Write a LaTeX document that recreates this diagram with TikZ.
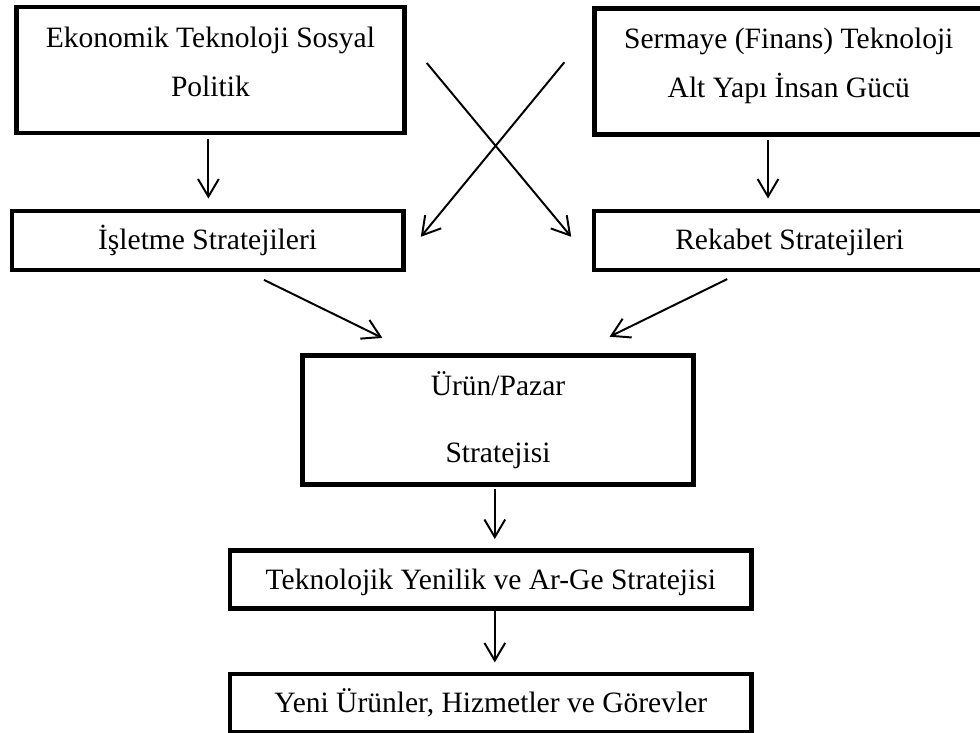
\documentclass[tikz,border=0pt]{standalone}
\usepackage{fontspec}
\setmainfont{Liberation Serif}
\usetikzlibrary{arrows.meta,positioning,calc}

\begin{document}
\begin{tikzpicture}[
  box/.style={draw,line width=3.4pt,align=center,inner sep=4pt,font=\fontsize{21}{34.8}\selectfont},
  bigbox/.style={box,minimum width=9.7cm,minimum height=3.15cm,text height=50pt,text depth=12.2pt},
  midbox/.style={box,minimum width=9.78cm,minimum height=1.475cm,text height=18.5pt,text depth=5pt},
  lowbox/.style={box,minimum width=13.04cm,minimum height=1.45cm,text height=18.5pt,text depth=5pt},
  arrow/.style={-{Straight Barb[length=4.4mm,width=5.2mm]},line width=1.4pt}
]
\useasboundingbox (0,0) rectangle (24.5,-18.325);
\node[bigbox] (eko) at (5.26,-1.75) {Ekonomik Teknoloji Sosyal\\Politik};
\node[bigbox] (ser) at (19.72,-1.78) {Sermaye (Finans) Teknoloji\\Alt Yapı İnsan Gücü};
\node[midbox] (isl) at (5.19,-6.01) {İşletme Stratejileri};
\node[midbox] (rek) at (19.74,-6.01) {Rekabet Stratejileri};
\node[box,minimum width=9.78cm,minimum height=3.225cm] (urun) at (12.45,-10.5)
  {Ürün/Pazar\\[12.8pt]Stratejisi};
\node[lowbox] (tek) at (12.27,-14.49) {Teknolojik Yenilik ve Ar-Ge Stratejisi};
\node[lowbox] (yeni) at (12.27,-17.575) {Yeni Ürünler, Hizmetler ve Görevler};
% crossing arrows
\coordinate (ekoout) at ([xshift=5mm,yshift=1.75mm]eko.east);
\coordinate (rekin) at ([xshift=-5.1mm,yshift=0.9mm]rek.west);
\coordinate (serout) at ([xshift=-7mm,yshift=2.25mm]ser.west);
\coordinate (islin) at ([xshift=3.8mm,yshift=0.9mm]isl.east);
\draw[arrow] (ekoout) -- (rekin);
\draw[arrow] (serout) -- (islin);
\draw[arrow,shorten <=0.8mm,shorten >=2.5mm] ([xshift=-0.5mm]eko.south) -- ([xshift=-0.5mm]eko.south |- isl.north);
\draw[arrow,shorten <=0.8mm,shorten >=2.5mm] ([xshift=-5.2mm]ser.south) -- ([xshift=-5.2mm]ser.south |- rek.north);
\draw[arrow] ([xshift=14.1mm,yshift=-1.9mm]isl.south) -- ([xshift=-28.9mm,yshift=3.8mm]urun.north);
\draw[arrow] ([xshift=-15.6mm,yshift=-1.7mm]rek.south) -- ([xshift=27.9mm,yshift=4.1mm]urun.north);
\draw[arrow,shorten <=0.5mm,shorten >=2.3mm] ([xshift=-0.8mm]urun.south) -- ([xshift=-0.8mm]urun.south |- tek.north);
\draw[arrow,shorten >=2.3mm] ([xshift=1mm]tek.south) -- ([xshift=1mm]tek.south |- yeni.north);
\end{tikzpicture}
\end{document}
